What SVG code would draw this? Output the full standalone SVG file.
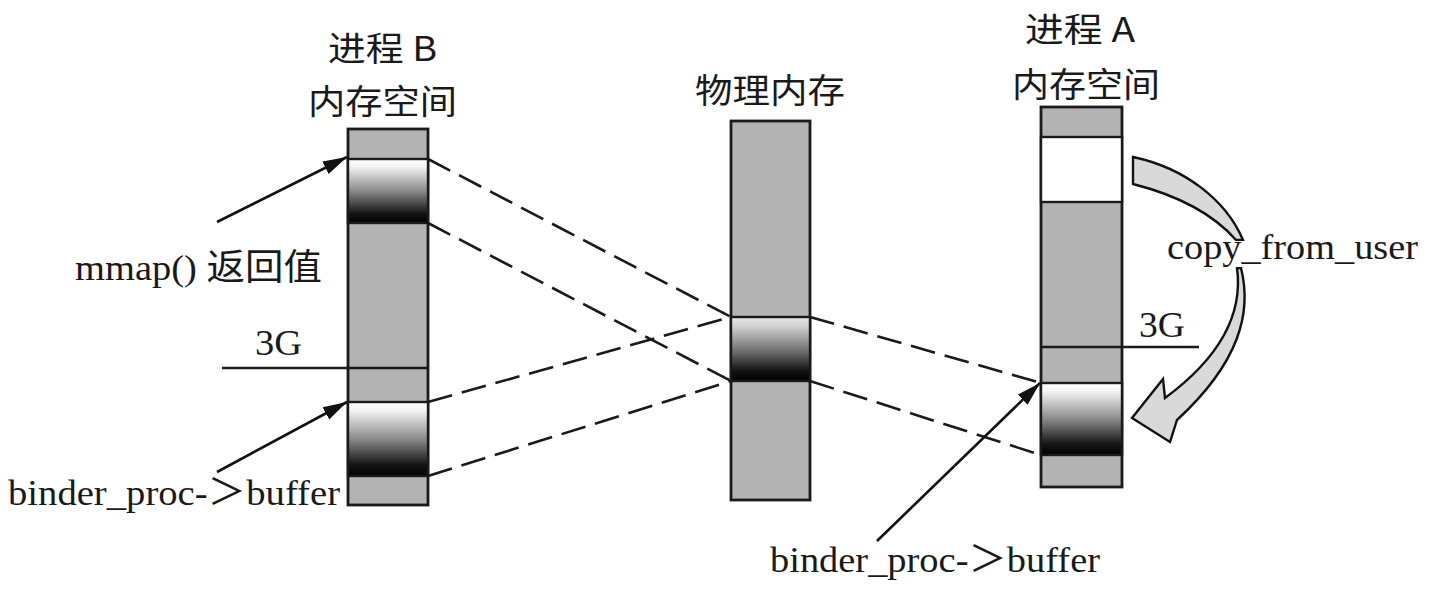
<svg xmlns="http://www.w3.org/2000/svg" width="1432" height="594" viewBox="0 0 1432 594">
<style>
.col{fill:#b3b3b3;stroke:#1a1a1a;stroke-width:2.8}
.band{stroke:#1a1a1a;stroke-width:2.4}
.ln{stroke:#1a1a1a;stroke-width:2.4;fill:none}
.dash{stroke:#1a1a1a;stroke-width:2.6;fill:none;stroke-dasharray:25 10}
.arr{stroke:#111;stroke-width:2.6;fill:none;marker-end:url(#ah)}
.t{font-family:"Liberation Serif","Noto Sans CJK SC",serif;font-size:36px;fill:#1a1a1a}
.c{font-family:"Noto Sans CJK SC","Liberation Serif",sans-serif;font-size:34px;fill:#1a1a1a}
</style>
<defs>
<linearGradient id="g" x1="0" y1="0" x2="0" y2="1">
<stop offset="0" stop-color="#ffffff"/>
<stop offset="0.12" stop-color="#f2f2f2"/>
<stop offset="0.5" stop-color="#8a8a8a"/>
<stop offset="0.85" stop-color="#151515"/>
<stop offset="1" stop-color="#000"/>
</linearGradient>
<linearGradient id="gp" x1="0" y1="0" x2="0" y2="1">
<stop offset="0" stop-color="#e6e6e6"/>
<stop offset="0.15" stop-color="#d0d0d0"/>
<stop offset="0.55" stop-color="#6a6a6a"/>
<stop offset="0.85" stop-color="#111"/>
<stop offset="1" stop-color="#000"/>
</linearGradient>
<marker id="ah" markerUnits="userSpaceOnUse" markerWidth="26" markerHeight="16" refX="24" refY="8" orient="auto">
<path d="M0,1 L24,8 L0,15 Z" fill="#111"/>
</marker>
</defs>
<rect width="1432" height="594" fill="#fff"/>

<g id="procB">
<rect class="col" x="348" y="129" width="80" height="376"/>
<rect class="band" x="348" y="159" width="80" height="64" fill="url(#g)"/>
<rect class="band" x="348" y="402" width="80" height="74" fill="url(#g)"/>
<line class="ln" x1="222" y1="368" x2="428" y2="368"/>
<text class="c" x="328" y="61" textLength="109" lengthAdjust="spacingAndGlyphs">进程 B</text>
<text class="c" x="308" y="114" textLength="149" lengthAdjust="spacingAndGlyphs">内存空间</text>
<text class="t" x="255" y="355" textLength="47" lengthAdjust="spacingAndGlyphs">3G</text>
<text class="t" x="75" y="280" textLength="247" lengthAdjust="spacingAndGlyphs">mmap() 返回值</text>
<text class="t" x="8" y="505" textLength="332" lengthAdjust="spacingAndGlyphs">binder_proc-＞buffer</text>
</g>

<g id="phys">
<rect class="col" x="731" y="121" width="79" height="379"/>
<rect class="band" x="731" y="317" width="79" height="64" fill="url(#gp)"/>
<text class="c" x="695" y="103" textLength="150" lengthAdjust="spacingAndGlyphs">物理内存</text>
</g>

<g id="procA">
<rect class="col" x="1041" y="107" width="81" height="380"/>
<rect class="band" x="1041" y="137" width="81" height="65" fill="#fff"/>
<rect class="band" x="1041" y="383" width="81" height="72" fill="url(#g)"/>
<line class="ln" x1="1041" y1="347" x2="1199" y2="347"/>
<text class="c" x="1025" y="42" textLength="110" lengthAdjust="spacingAndGlyphs">进程 A</text>
<text class="c" x="1012" y="97" textLength="148" lengthAdjust="spacingAndGlyphs">内存空间</text>
<text class="t" x="1139" y="337" textLength="46" lengthAdjust="spacingAndGlyphs">3G</text>
<text class="t" x="770" y="572" textLength="330" lengthAdjust="spacingAndGlyphs">binder_proc-＞buffer</text>
</g>

<g id="copy">
<path d="M1133,157 C1185,168 1226,200 1243,240 L1236,240 C1215,216 1180,196 1133,184 Z" fill="#d9d9d9" stroke="#111" stroke-width="2.4"/>
<path d="M1241,268 C1252,312 1240,362 1177,420 L1170,442 L1132,418 L1163,379 L1165,398 C1222,356 1243,312 1237,268 Z" fill="#d9d9d9" stroke="#111" stroke-width="2.4"/>
<rect x="1162" y="241" width="262" height="26" fill="#fff"/>
<text class="t" x="1167" y="259" textLength="251" lengthAdjust="spacingAndGlyphs">copy_from_user</text>
</g>

<g id="connectors">
<line class="dash" x1="428" y1="159" x2="731" y2="317"/>
<line class="dash" x1="428" y1="223" x2="731" y2="381"/>
<line class="dash" x1="428" y1="402" x2="731" y2="317"/>
<line class="dash" x1="428" y1="476" x2="731" y2="381"/>
<line class="dash" x1="810" y1="317" x2="1041" y2="383"/>
<line class="dash" x1="810" y1="381" x2="1041" y2="455"/>
<line class="arr" x1="217" y1="222" x2="347" y2="157"/>
<line class="arr" x1="217" y1="472" x2="347" y2="402"/>
<line class="arr" x1="877" y1="541" x2="1040" y2="383"/>
</g>
</svg>
